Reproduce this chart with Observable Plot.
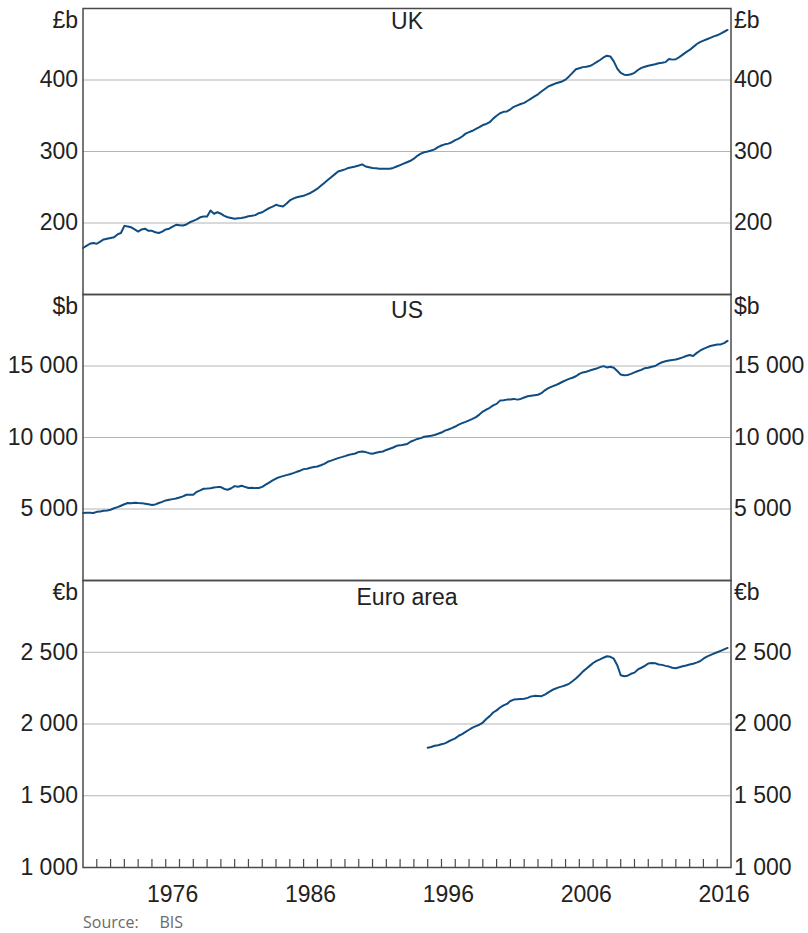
<!DOCTYPE html>
<html><head><meta charset="utf-8">
<script src="https://cdn.jsdelivr.net/npm/d3@7"></script>
<script src="https://cdn.jsdelivr.net/npm/@observablehq/plot@0.6"></script>
<style>
body{margin:0;background:#fff;}
#chart{position:relative;width:808px;height:933px;font-family:"Liberation Sans",Arial,sans-serif;}
.panel{position:absolute;left:0;}
.panel svg{overflow:visible;display:block;}
#source{position:absolute;left:83px;top:911px;font-family:"Open Sans",sans-serif;font-size:16px;color:#6a6a6a;white-space:pre;}
</style></head><body>
<div id="chart"><div id="source">Source:&nbsp;&nbsp;&nbsp;&nbsp;&nbsp;BIS</div></div>
<script>
// Quarterly values, first quarter of start year onward
const ukStart = 1970;
const ukValues = [
 165,168,171,172, 171,174,177,178, 179,180,184,186, 196,195,194,191,
 188,191,192,189, 189,187,186,188, 191,192,195,197.5, 197,196.5,198,201,
 203,205,208,209, 209,217.5,213,215, 213,210,208,207, 206,206.5,207,208,
 209.5,210,211,213.7, 215,218,220.7,223, 225.5,224,223,227, 231.5,234,236,237,
 238,240,242,245, 248,252,256,260, 264,268,272,273.5, 275,277,278,279,
 280.4,282,279,278, 277,276.5,276,276, 276,276,277,279, 281,283,285,287,
 290,294,297,299, 300,301.4,303,306, 308.4,310,311,313, 316,318,321,325,
 327,329,331.5,334, 337,338.5,341,346, 350,353.5,355.5,356, 359,362.5,364.5,366.5,
 368,371,374,377, 380,384,387.5,391, 393,395,396.5,398, 400.5,405,410,415,
 416.5,418,418.5,419.5, 422,425,428,431.5, 434,433,426,416, 410,407.5,407,408,
 410,414,417,418.5, 420,421,422,423.5, 424,425,429.5,428.5, 429,432,435.5,439,
 442,446,450,453, 455,457,459,461, 462.5,465,467.5,470
];
const usStart = 1970;
const usValues = [
 4720,4730,4740,4721, 4800,4833,4870,4900, 4951,5050,5130,5230, 5330,5418,5410,5440,
 5420,5410,5370,5330, 5279,5320,5418,5500, 5600,5650,5690,5730, 5800,5880,5997,6000,
 5997,6200,6300,6416, 6430,6450,6500,6530, 6534,6400,6346,6450, 6600,6560,6625,6550,
 6464,6480,6460,6464, 6550,6700,6850,7000, 7130,7231,7300,7370, 7430,7510,7600,7680,
 7789,7820,7880,7930, 7971,8060,8160,8300, 8380,8470,8560,8626, 8700,8780,8836,8880,
 8990,9017,8980,8906, 8870,8930,8980,9020, 9130,9212,9300,9421, 9450,9500,9540,9700,
 9800,9900,9958,10050, 10090,10119,10180,10260, 10349,10480,10560,10660, 10767,10900,11000,11095,
 11200,11300,11422,11600, 11813,11950,12080,12250, 12350,12580,12600,12650, 12660,12700,12650,12699,
 12800,12880,12920,12960, 12990,13100,13300,13450, 13560,13650,13760,13880, 14000,14100,14180,14280,
 14450,14550,14600,14680, 14750,14820,14920,14990, 14900,14950,14880,14650, 14400,14360,14372,14450,
 14550,14650,14730,14850, 14880,14953,15000,15150, 15260,15330,15380,15418, 15460,15520,15600,15700,
 15767,15700,15900,16067, 16200,16300,16400,16450, 16500,16510,16600,16760
];
const euStart = 1995;
const euValues = [
 1835,1840,1848,1852, 1859,1865,1878,1889, 1900,1918,1930,1945, 1960,1975,1985,1995,
 2010,2035,2055,2080, 2095,2115,2130,2140, 2160,2170,2172,2174, 2176,2182,2192,2196,
 2195,2194,2205,2220, 2235,2246,2255,2262, 2270,2280,2298,2317, 2340,2365,2385,2405,
 2425,2440,2450,2462, 2472,2468,2455,2410, 2340,2333,2337,2350, 2358,2380,2392,2405,
 2422,2425,2424,2415, 2412,2405,2400,2392, 2388,2395,2402,2408, 2415,2420,2428,2437,
 2455,2470,2480,2490, 2500,2510,2520,2530
];
const titles = ["UK", "US", "Euro area"];
const units = ["£b", "$b", "€b"];
const yDomains = [[100, 500], [0, 20000], [1000, 3000]];
const yGrid = [[200, 300, 400], [5000, 10000, 15000], [1500, 2000, 2500]];
const yLabels = [[200, 300, 400], [5000, 10000, 15000], [1000, 1500, 2000, 2500]];
const xDomain = [1970, 2017];
const xLabelYears = [1976, 1986, 1996, 2006, 2016];
const xTickYears = d3.range(1971, 2017);

const series = [[ukStart, ukValues], [usStart, usValues], [euStart, euValues]];
const layout = [
  {top: 0, height: 294, marginTop: 8, marginBottom: 0, titleDy: 13},
  {top: 294, height: 286, marginTop: 0, marginBottom: 0, titleDy: 16},
  {top: 580, height: 330, marginTop: 0, marginBottom: 43, titleDy: 17}
];
const fmt = d => d3.format(",")(d).replace(/,/g, " ");
const LINE = "#0f4c81", FRAME = "#4a4a4a", GRID = "#b4b4b4", FS = 23;

const chart = document.getElementById("chart");
series.forEach(([start, vals], i) => {
  const L = layout[i];
  const last = i === 2;
  const plotH = L.height - L.marginTop - L.marginBottom;
  const marks = [
    Plot.gridY(yGrid[i], {stroke: GRID, strokeOpacity: 1, strokeWidth: 1}),
    Plot.line(vals, {x: (d, k) => start + k / 4, y: d => d, stroke: LINE, strokeWidth: 2}),
    Plot.frame({stroke: FRAME, strokeWidth: 1.5}),
    Plot.axisY(yLabels[i], {anchor: "left", tickSize: 0, tickPadding: 5, tickFormat: fmt, fontSize: FS}),
    Plot.axisY(yLabels[i], {anchor: "right", tickSize: 0, tickPadding: 3, tickFormat: fmt, fontSize: FS}),
    Plot.text([units[i]], {frameAnchor: "top-left", text: d => d, textAnchor: "end", lineAnchor: "middle", dx: -5, dy: 12, fontSize: FS}),
    Plot.text([units[i]], {frameAnchor: "top-right", text: d => d, textAnchor: "start", lineAnchor: "middle", dx: 3, dy: 12, fontSize: FS}),
    Plot.text([titles[i]], {frameAnchor: "top", text: d => d, lineAnchor: "middle", dy: L.titleDy, fontSize: FS})
  ];
  if (last) {
    marks.push(
      Plot.tickX(xTickYears, {x: d => d, stroke: FRAME, strokeWidth: 1.2, insetTop: plotH - 8}),
      Plot.axisX(xLabelYears.map(y => y + 0.5), {anchor: "bottom", tickSize: 0, tickPadding: 18,
        tickFormat: d => String(Math.floor(d)), fontSize: FS})
    );
  }
  const svg = Plot.plot({
    width: 808, height: L.height,
    marginLeft: 82.5, marginRight: 77.5, marginTop: L.marginTop, marginBottom: L.marginBottom,
    style: {color: "#222", fontFamily: "'Liberation Sans', Arial, sans-serif", background: "transparent", overflow: "visible"},
    x: {domain: xDomain, axis: null},
    y: {domain: yDomains[i], axis: null},
    marks
  });
  const div = document.createElement("div");
  div.className = "panel";
  div.style.top = L.top + "px";
  div.appendChild(svg);
  chart.appendChild(div);
});
</script>
</body></html>
